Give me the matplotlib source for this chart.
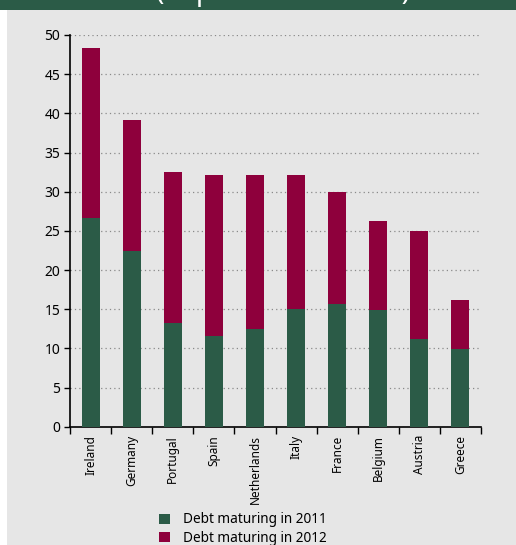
import numpy as np
import matplotlib.pyplot as plt
from matplotlib.patches import Rectangle, Patch

# Debt maturing, per cent of GDP
paises = ["Ireland", "Germany", "Portugal", "Spain", "Netherlands",
          "Italy", "France", "Belgium", "Austria", "Greece"]
deuda_2011 = [26.6, 22.4, 13.2, 11.6, 12.5, 15.0, 15.7, 14.9, 11.2, 9.9]
deuda_2012 = [21.7, 16.7, 19.3, 20.5, 19.6, 17.1, 14.3, 11.4, 13.8, 6.3]
serie_2011 = "Debt maturing in 2011"
serie_2012 = "Debt maturing in 2012"

verde = "#2b5b47"
granate = "#8e003c"
fondo = "#e6e6e6"

plt.rcParams["font.family"] = ["Noto Sans", "DejaVu Sans"]

W, H = 516, 545
fig = plt.figure(figsize=(W / 100, H / 100), dpi=100, facecolor=fondo)

# franja blanca a la izquierda y cabecera verde
fig.patches.append(Rectangle((0, 0), 7 / W, 1, transform=fig.transFigure,
                             facecolor="white", edgecolor="none", zorder=0))
fig.patches.append(Rectangle((0, 1 - 10 / H), 1, 10 / H, transform=fig.transFigure,
                             facecolor=verde, edgecolor="none", zorder=1))
fig.text(283 / W, 1.0, "(in per cent of GDP)", color="white", fontsize=20,
         fontweight="bold", ha="center", va="baseline", zorder=2)

ax = fig.add_axes([70 / W, 118.3 / H, 411 / W, 391.7 / H])
ax.set_facecolor(fondo)

x = np.arange(len(paises))
ax.bar(x, deuda_2011, width=0.44, color=verde, zorder=3, label=serie_2011)
ax.bar(x, deuda_2012, width=0.44, bottom=deuda_2011, color=granate, zorder=3,
       label=serie_2012)

ax.set_xlim(-0.5, len(paises) - 0.5)
ax.set_ylim(0, 50)
ax.set_yticks(np.arange(0, 51, 5))
ax.yaxis.grid(True, linestyle=(0, (1, 2.5)), color="#8a8a8a", linewidth=0.9)
ax.set_axisbelow(True)

ax.set_xticks(x)
ax.set_xticklabels(paises, rotation=90, fontsize=8.5)
ax.set_xticks(np.arange(-0.5, len(paises)), minor=True)
ax.tick_params(axis="x", which="major", length=0, pad=6)
ax.tick_params(axis="x", which="minor", length=5, width=1, direction="out")
ax.tick_params(axis="y", length=4, width=1, labelsize=10, pad=3)

for lado in ["top", "right"]:
    ax.spines[lado].set_visible(False)
for lado in ["left", "bottom"]:
    ax.spines[lado].set_linewidth(1.2)

manijas = [Patch(facecolor=verde, label=serie_2011),
           Patch(facecolor=granate, label=serie_2012)]
fig.legend(handles=manijas, loc="upper left", bbox_to_anchor=(154 / W, 38 / H),
           frameon=False, fontsize=9.8, handlelength=0.75, handleheight=0.75,
           handletextpad=1.0, labelspacing=0.25, borderaxespad=0)

plt.savefig("out.png", dpi=100, facecolor=fondo)
